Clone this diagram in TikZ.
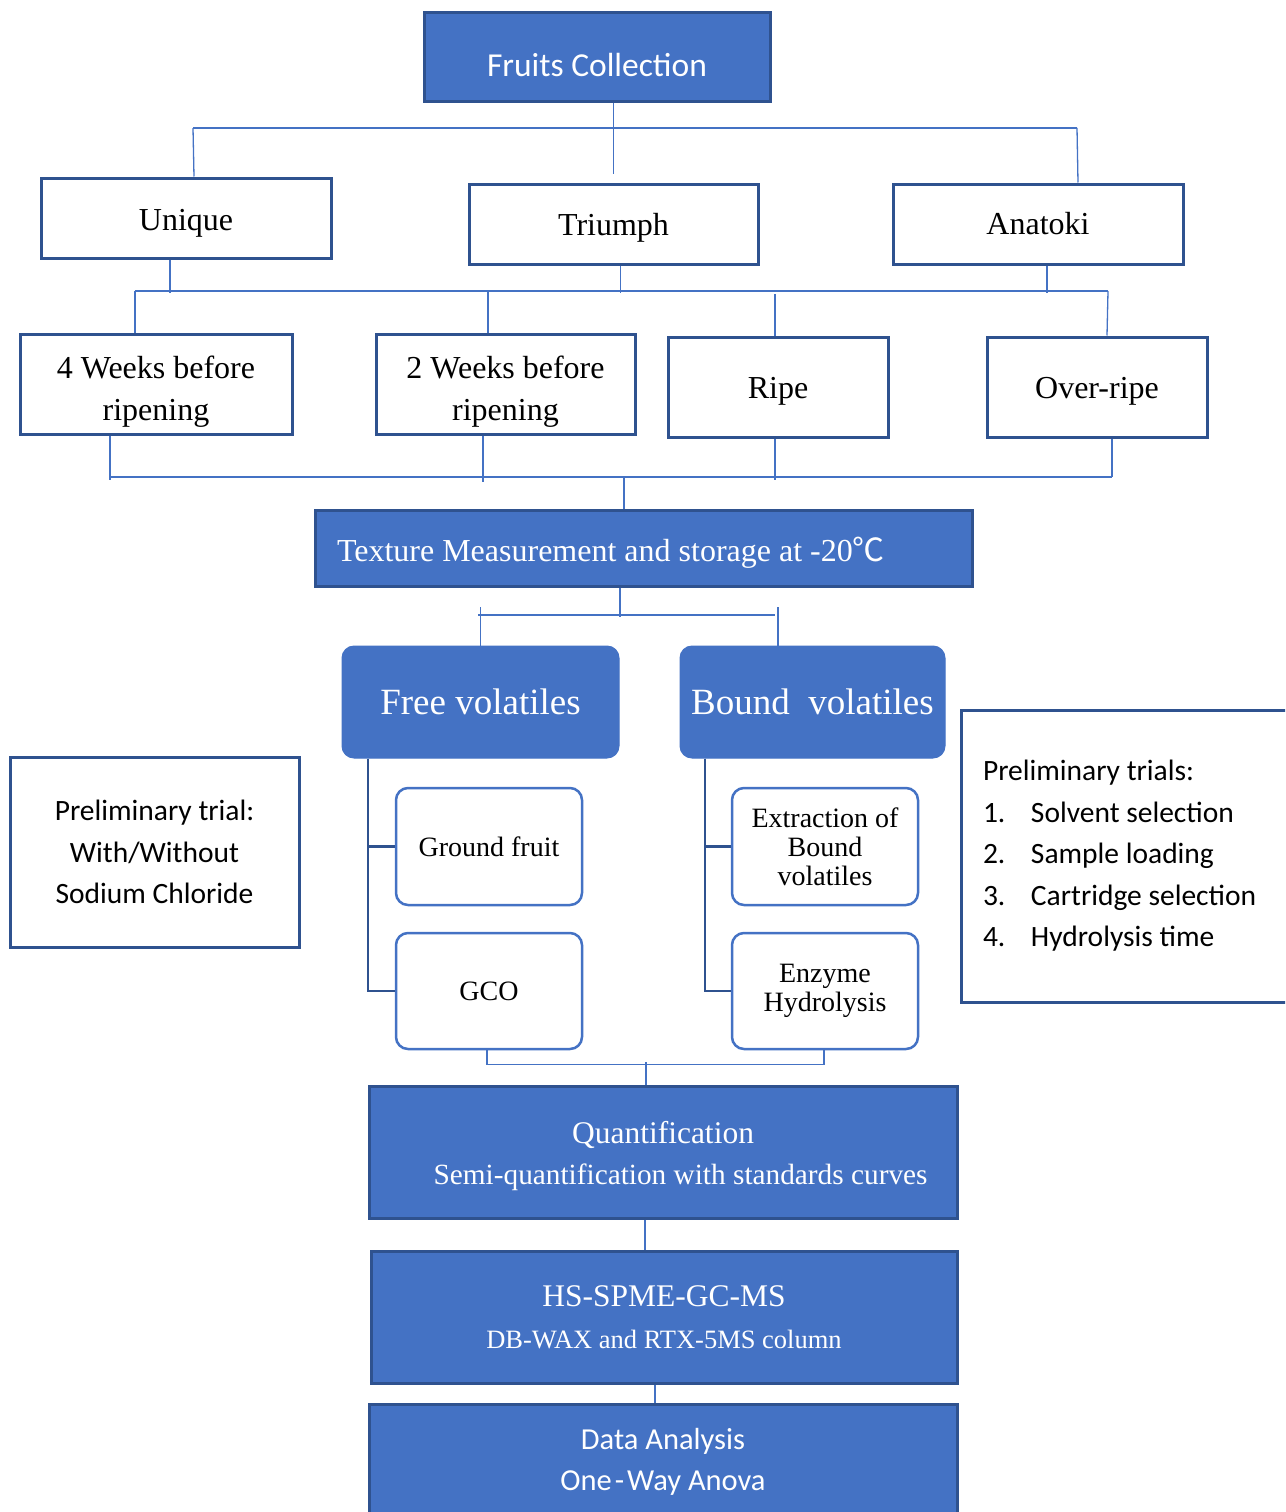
\documentclass[tikz,border=0pt]{standalone}
\usepackage{fontspec}
\setmainfont{Liberation Serif}
\newfontfamily\calfont{Carlito}
\newfontfamily\cjkfont{Noto Sans CJK SC}
\usetikzlibrary{positioning}
\definecolor{MidBlue}{HTML}{4472C4}
\definecolor{DarkBlue}{HTML}{2F528F}
\newcommand\setfs[2]{\fontsize{#1}{#2}\selectfont}
\newcommand\numitem[1]{\makebox[48pt][l]{#1}}
\newcommand\tallstrut[1]{\rule{0pt}{#1}}
\tikzset{
  headbox/.style={draw=DarkBlue, line width=3pt, fill=MidBlue, text=white, align=center, inner sep=0pt},
  plainbox/.style={draw=DarkBlue, line width=3pt, fill=white, align=center, inner sep=0pt, font={\setfs{32}{42}}},
  volbox/.style={draw=MidBlue, line width=1pt, fill=MidBlue, rounded corners=12pt, text=white, inner sep=0pt, font={\setfs{37}{44}}},
  roundbox/.style={draw=MidBlue, line width=2.5pt, fill=white, rounded corners=12pt, align=center, inner sep=0pt, minimum width=186pt, font={\setfs{28}{29}}},
  notebox/.style={draw=DarkBlue, line width=3pt, fill=white, inner sep=0pt, font={\calfont\setfs{29.5}{41.5}}},
  link/.style={draw=MidBlue, line width=1.3pt},
  bracket/.style={draw=DarkBlue, line width=2.5pt}
}

\begin{document}
\begin{tikzpicture}[x=1pt, y=-1pt]
\clip (0,0) rectangle (1285,1512);

\node[headbox, minimum width=346pt, minimum height=88pt, font={\calfont\setfs{33.5}{40}}] (fruits) at (597,57) {\tallstrut{40pt}Fruits Collection};

\node[plainbox, minimum width=290pt, minimum height=80pt] (unique) at (186,218) {\tallstrut{31pt}Unique};
\node[plainbox, minimum width=289pt, minimum height=80pt] (triumph) at (613.5,224) {\tallstrut{30pt}Triumph};
\node[plainbox, minimum width=290pt, minimum height=80pt] (anatoki) at (1038,224) {Anatoki};

\node[plainbox, minimum width=272pt, minimum height=100pt] (wk4) at (156,384) {\tallstrut{38pt}4 Weeks before\\ripening};
\node[plainbox, minimum width=259pt, minimum height=100pt] (wk2) at (505.5,384) {\tallstrut{38pt}2 Weeks before\\ripening};
\node[plainbox, minimum width=220pt, minimum height=100pt] (ripe) at (778,387) {\tallstrut{29pt}Ripe};
\node[plainbox, minimum width=220pt, minimum height=100pt] (overripe) at (1097,387) {\tallstrut{29pt}Over-ripe};

\node[headbox, align=left, text width=613pt, inner xsep=22pt, minimum height=76pt, font={\setfs{32}{40}}] (texture) at (643.5,548) {\spaceskip=0pt\xspaceskip=0pt\tallstrut{34pt}Texture Measurement and storage at -20{\cjkfont ℃}};

\node[volbox, minimum width=277pt, minimum height=112pt] (free) at (480.5,702) {Free volatiles};
\node[volbox, minimum width=265pt, minimum height=112pt] (bound) at (812.5,702) {Bound\hspace{0.25em} volatiles};

\node[roundbox, minimum height=117pt] (ground) at (489,846.5) {Ground fruit};
\node[roundbox, minimum height=116pt] (gco) at (489,991) {GCO};
\node[roundbox, minimum height=117pt] (extract) at (825,846.5) {Extraction of\\Bound\\volatiles};
\node[roundbox, minimum height=116pt] (enzyme) at (825,991) {Enzyme\\Hydrolysis};

\node[headbox, minimum width=588pt, minimum height=132pt, font={\setfs{29.3}{41}}] (quant) at (663,1152) {{\setfs{31.5}{41}\tallstrut{30pt}Quantification}\\\hspace{1.2em}Semi-quantification with standards curves};
\node[headbox, minimum width=586pt, minimum height=132pt, font={\setfs{26.5}{42}}] (hs) at (664,1317) {{\setfs{31.5}{42}HS-SPME-GC-MS}\\DB-WAX and RTX-5MS column};
\node[headbox, minimum width=588pt, minimum height=116pt, font={\calfont\setfs{30.5}{41}}] (data) at (663,1462) {Data Analysis\\One\kern3pt-\kern3pt Way Anova};

\node[notebox, align=center, minimum width=289pt, minimum height=190pt] (trial) at (154.5,852) {Preliminary trial:\\With/Without\\Sodium Chloride};
\node[notebox, align=left, text width=295pt, inner xsep=22pt, minimum height=292pt] (trials) at (1130.5,856) {\spaceskip=0pt\xspaceskip=0pt Preliminary trials:\\
  \numitem{1.}Solvent selection\\
  \numitem{2.}Sample loading\\
  \numitem{3.}Cartridge selection\\
  \numitem{4.}Hydrolysis time};

\coordinate (bus1w) at (193,128);
\coordinate (bus1e) at (1077,128);
\coordinate (bus2w) at (135,291);
\coordinate (bus2e) at (1108,291);
\coordinate (bus3w) at (109,477);
\coordinate (bus3e) at (1112,477);
\coordinate (bus4w) at (478,615);
\coordinate (bus4e) at (775,615);

\draw[link] (fruits.south -| triumph.north) -- ([yshift=9pt]triumph.north);
\draw[link] (bus1w) -- (bus1e);
\draw[link] (bus1w) -- ([xshift=8pt]unique.north);
\draw[link] (bus1e) -- ([xshift=40pt]anatoki.north);

\draw[link] (bus2w) -- (bus2e);
\draw[link] ([xshift=-16pt]unique.south) -- ++(0,33);
\draw[link] ([xshift=7pt]triumph.south) -- ++(0,27);
\draw[link] ([xshift=9pt]anatoki.south) -- ++(0,27);
\draw[link] (bus2w) -- ([xshift=-21pt]wk4.north);
\draw[link] ([xshift=-17.5pt]wk2.north) -- ++(0,-43);
\draw[link] ([xshift=-3pt]ripe.north) -- ++(0,-42);
\draw[link] (bus2e) -- ([xshift=10pt]overripe.north);

\draw[link] (bus3w) -- (bus3e);
\draw[link] ([xshift=-46pt]wk4.south) -- ++(0,44);
\draw[link] ([xshift=-22.5pt]wk2.south) -- ++(0,46);
\draw[link] ([xshift=-3pt]ripe.south) -- ++(0,41);
\draw[link] ([xshift=15pt]overripe.south) -- (bus3e);
\draw[link] ([xshift=-19.5pt]texture.north) -- ++(0,-33);

\draw[link] ([xshift=-23.5pt]texture.south) -- ++(0,29);
\draw[link] (bus4w) -- (bus4e);
\draw[link] (free.north) -- ++(0,-39);
\draw[link] ([xshift=-34.5pt]bound.north) -- ++(0,-39);

\draw[bracket] ([xshift=-112.5pt]free.south) |- (ground.west);
\draw[bracket] ([xshift=-112.5pt]free.south) |- (gco.west);
\draw[bracket] ([xshift=-107.5pt]bound.south) |- (extract.west);
\draw[bracket] ([xshift=-107.5pt]bound.south) |- (enzyme.west);

\draw[link] ([xshift=-2pt]gco.south) -- ++(0,14) -| ([xshift=-1pt]enzyme.south);
\draw[link] ([xshift=-17pt]quant.north) -- ++(0,-23);
\draw[link] ([xshift=-18pt]quant.south) -- ([xshift=-19pt]hs.north);
\draw[link] ([xshift=-9pt]hs.south) -- ([xshift=-8pt]data.north);
\end{tikzpicture}
\end{document}
